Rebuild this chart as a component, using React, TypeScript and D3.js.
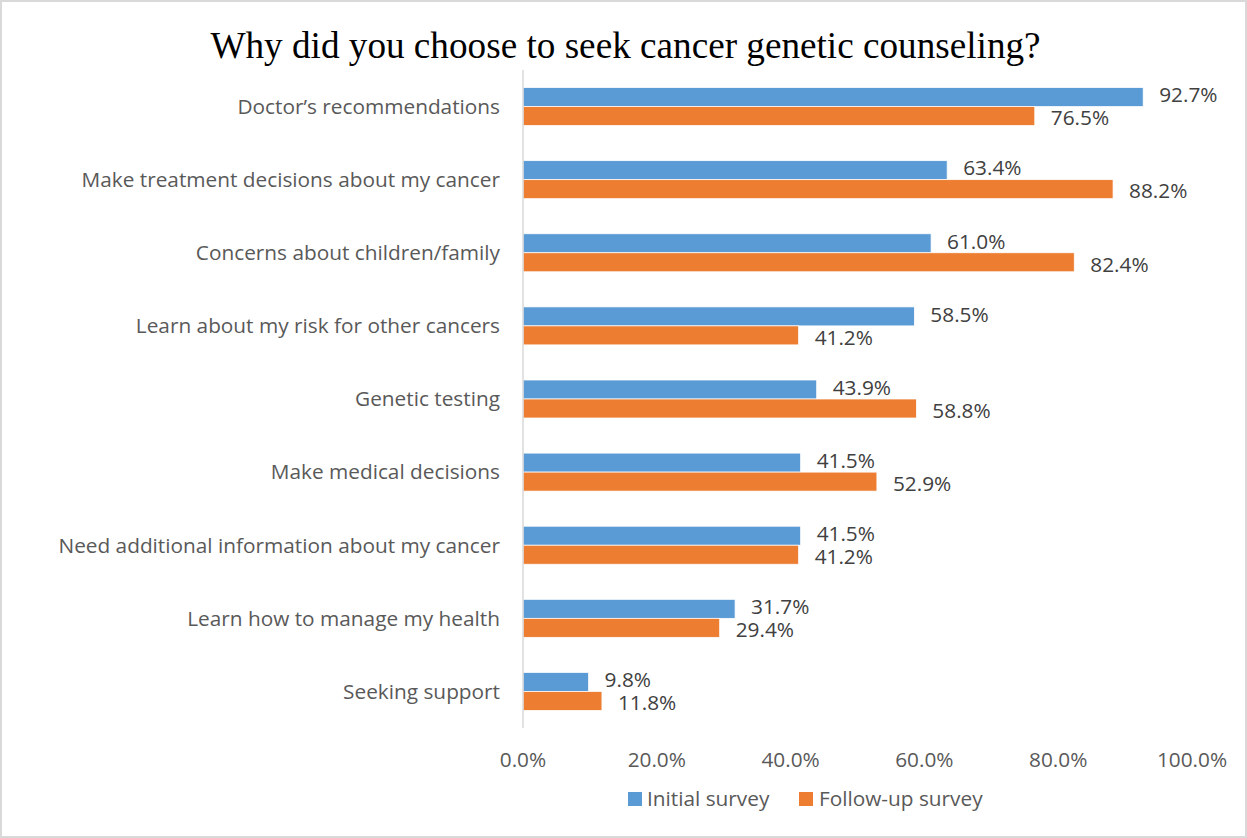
import React from "react";
import * as d3 from "d3";

const categories = [
  "Doctor’s recommendations",
  "Make treatment decisions about my cancer",
  "Concerns about children/family",
  "Learn about my risk for other cancers",
  "Genetic testing",
  "Make medical decisions",
  "Need additional information about my cancer",
  "Learn how to manage my health",
  "Seeking support",
];
const initialSurvey = [92.7, 63.4, 61.0, 58.5, 43.9, 41.5, 41.5, 31.7, 9.8];
const followUpSurvey = [76.5, 88.2, 82.4, 41.2, 58.8, 52.9, 41.2, 29.4, 11.8];
const xTicks = [0, 20, 40, 60, 80, 100];
const seriesNames = ["Initial survey", "Follow-up survey"];
const colors = ["#5b9bd5", "#ed7d31"];

const W = 1247;
const H = 838;
const font = "'Open Sans', 'Noto Sans', sans-serif";
const fs = 20.8;

export default function App() {
  const x = d3.scaleLinear().domain([0, 100]).range([523, 1192]);
  const y = d3.scaleBand().domain(categories).range([70, 728]);
  const barH = 19;
  const series = [initialSurvey, followUpSurvey];

  return (
    <svg width={W} height={H} style={{ position: "absolute", left: 0, top: 0 }}>
      <rect x={0} y={0} width={W} height={H} fill="#fff" />
      <rect x={1} y={1} width={W - 2} height={H - 2} fill="none" stroke="#d9d9d9" strokeWidth={2} />
      <text x={625.5} y={58} textAnchor="middle" fontFamily="'Liberation Serif', 'Times New Roman', serif" fontSize={37.2} fill="#000">
        Why did you choose to seek cancer genetic counseling?
      </text>
      {categories.map((c, i) => {
        const cy = (y(c) as number) + y.bandwidth() / 2;
        return (
          <g key={c}>
            <text x={500} y={cy} dy="0.35em" textAnchor="end" fontFamily={font} fontSize={fs} fill="#595959">
              {c}
            </text>
            {series.map((s, j) => {
              const by = cy - barH + j * barH;
              return (
                <g key={j}>
                  <rect x={x(0)} y={by} width={x(s[i]) - x(0)} height={barH} fill={colors[j]} stroke="#fff" strokeWidth={0.75} />
                  <text x={x(s[i]) + 16} y={by + barH / 2 + (j === 0 ? -2 : 2)} dy="0.35em" fontFamily={font} fontSize={fs} fill="#404040">
                    {s[i].toFixed(1)}%
                  </text>
                </g>
              );
            })}
          </g>
        );
      })}
      <line x1={x(0)} x2={x(0)} y1={70} y2={728} stroke="#d9d9d9" strokeWidth={1.5} />
      {xTicks.map((t) => (
        <text key={t} x={x(t)} y={760} dy="0.35em" textAnchor="middle" fontFamily={font} fontSize={fs} fill="#595959">
          {t.toFixed(1)}%
        </text>
      ))}
      <g>
        <rect x={628} y={792} width={14} height={14} fill={colors[0]} />
        <text x={647} y={799} dy="0.35em" fontFamily={font} fontSize={fs} fill="#595959">{seriesNames[0]}</text>
        <rect x={799} y={792} width={14} height={14} fill={colors[1]} />
        <text x={819} y={799} dy="0.35em" fontFamily={font} fontSize={fs} fill="#595959">{seriesNames[1]}</text>
      </g>
    </svg>
  );
}
